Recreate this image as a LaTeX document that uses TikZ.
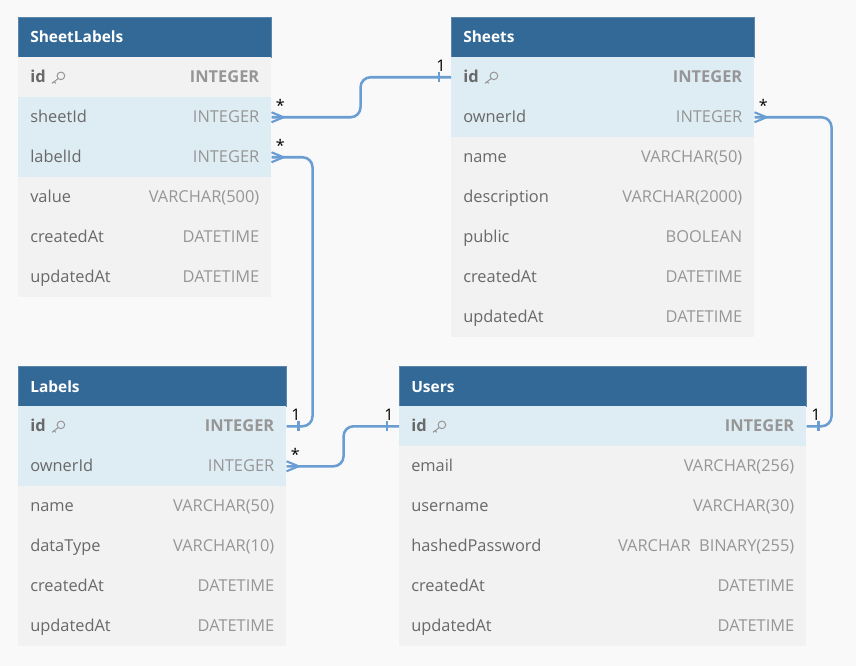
\documentclass[tikz,border=0pt]{standalone}
\usepackage{fontspec}
\setmainfont{Open Sans}
\definecolor{bg}{RGB}{249,249,249}
\definecolor{hdrc}{RGB}{50,105,150}
\definecolor{rowb}{RGB}{222,236,244}
\definecolor{rowg}{RGB}{242,242,242}
\definecolor{fnc}{RGB}{105,105,105}
\definecolor{tyc}{RGB}{150,150,150}
\definecolor{relc}{RGB}{106,158,210}
\tikzset{
  hdr/.style={rectangle, fill=hdrc, draw=hdrc!80!white, line width=0.4pt, minimum height=30pt, inner sep=0pt},
  ttl/.style={font=\fontsize{11.6}{14}\selectfont\bfseries, text=white, inner sep=0pt},
  rowbox/.style={rectangle, draw=none, minimum height=30pt, inner sep=0pt},
  fname/.style={font=\fontsize{12.3}{14}\selectfont, text=fnc, inner sep=0pt},
  ftype/.style={font=\fontsize{12.3}{14}\selectfont, text=tyc, inner sep=0pt},
  rel/.style={draw=relc, line width=1.9pt, rounded corners=7.5pt},
  foot/.style={draw=relc, line width=1.6pt},
  card/.style={font=\fontsize{12}{14}\selectfont, text=black, inner sep=0pt},
  keyc/.style={draw=tyc, line width=0.75pt},
}
\newcommand{\ertable}[6]{%
  \node[hdr, minimum width=#4*0.75pt, anchor=north west] (#1) at (#2,#3) {};
  \node[ttl, anchor=base west] (#1-title) at ([xshift=9pt,yshift=-4.3pt]#1.west) {#5};
  \foreach \fn/\ty/\fc [count=\i] in {#6} {
    \node[rowbox, fill=\fc, minimum width=#4*0.75pt, anchor=north west] (#1-\i) at (#2,#3+\i*40) {};
    \node[fname, anchor=base west] (#1-\i-n) at ([xshift=9pt,yshift=-4.2pt]#1-\i.west) {\fn};
    \node[ftype, anchor=base east] (#1-\i-t) at ([xshift=-9pt,yshift=-4.2pt]#1-\i.east) {\ty};
  }
}
\newcommand{\keyicon}[1]{%
  \begin{scope}[shift={(#1)}]
    \draw[keyc] (15,-7) circle (3.8);
    \draw[keyc] (12.3,-4.3) -- (6,0.5);
    \draw[keyc] (8,-1.3) -- (9.8,0.5);
  \end{scope}}
\begin{document}
\begin{tikzpicture}[x=0.75pt,y=-0.75pt]
\useasboundingbox (0,0) rectangle (856,666);
\fill[bg] (0,0) rectangle (856,666);

\ertable{SL}{18}{17}{253}{SheetLabels}{{\bfseries id}/{\bfseries INTEGER}/rowg, sheetId/INTEGER/rowb, labelId/INTEGER/rowb, value/VARCHAR(500)/rowg, createdAt/DATETIME/rowg, updatedAt/DATETIME/rowg}
\ertable{SH}{451}{17}{303}{Sheets}{{\bfseries id}/{\bfseries INTEGER}/rowb, ownerId/INTEGER/rowb, name/VARCHAR(50)/rowg, description/VARCHAR(2000)/rowg, public/BOOLEAN/rowg, createdAt/DATETIME/rowg, updatedAt/DATETIME/rowg}
\ertable{LB}{18}{366}{268}{Labels}{{\bfseries id}/{\bfseries INTEGER}/rowb, ownerId/INTEGER/rowb, name/VARCHAR(50)/rowg, dataType/VARCHAR(10)/rowg, createdAt/DATETIME/rowg, updatedAt/DATETIME/rowg}
\ertable{US}{399}{366}{407}{Users}{{\bfseries id}/{\bfseries INTEGER}/rowb, email/VARCHAR(256)/rowg, username/VARCHAR(30)/rowg, hashedPassword/{VARCHAR\ \ BINARY(255)}/rowg, createdAt/DATETIME/rowg, updatedAt/DATETIME/rowg}

\keyicon{SL-1-n.base east}
\keyicon{SH-1-n.base east}
\keyicon{LB-1-n.base east}
\keyicon{US-1-n.base east}

% connectors
\draw[rel] (SL-2.east) -- ++(89,0) |- (SH-1.west);
\draw[rel] (SL-3.east) -- ++(41,0) |- (LB-1.east);
\draw[rel] (LB-2.east) -- ++(57,0) |- (US-1.west);
\draw[rel] (SH-2.east) -- ++(77,0) |- (US-1.east);

% crow's feet (many)
\foreach \a in {SL-2, SL-3, LB-2, SH-2} {
  \draw[foot] ([xshift=9pt]\a.east) -- ([yshift=3.75pt]\a.east);
  \draw[foot] ([xshift=9pt]\a.east) -- ([yshift=-3.75pt]\a.east);
}
% ticks (one)
\draw[foot] ([xshift=-9pt,yshift=3.75pt]SH-1.west) -- ([xshift=-9pt,yshift=-3.75pt]SH-1.west);
\draw[foot] ([xshift=9pt,yshift=3.75pt]LB-1.east) -- ([xshift=9pt,yshift=-3.75pt]LB-1.east);
\draw[foot] ([xshift=-9pt,yshift=3.75pt]US-1.west) -- ([xshift=-9pt,yshift=-3.75pt]US-1.west);
\draw[foot] ([xshift=9pt,yshift=3.75pt]US-1.east) -- ([xshift=9pt,yshift=-3.75pt]US-1.east);

% cardinality labels
\node[card] (c1) at ([xshift=6.5pt,yshift=9pt]SL-2.east) {*};
\node[card] (c2) at ([xshift=6.5pt,yshift=9pt]SL-3.east) {*};
\node[card] (c3) at ([xshift=6.5pt,yshift=9pt]LB-2.east) {*};
\node[card] (c4) at ([xshift=6.5pt,yshift=9pt]SH-2.east) {*};
\node[card] (c5) at ([xshift=-7.5pt,yshift=8.5pt]SH-1.west) {1};
\node[card] (c6) at ([xshift=7pt,yshift=8.5pt]LB-1.east) {1};
\node[card] (c7) at ([xshift=-7.5pt,yshift=8.5pt]US-1.west) {1};
\node[card] (c8) at ([xshift=7pt,yshift=8.5pt]US-1.east) {1};
\end{tikzpicture}
\end{document}
